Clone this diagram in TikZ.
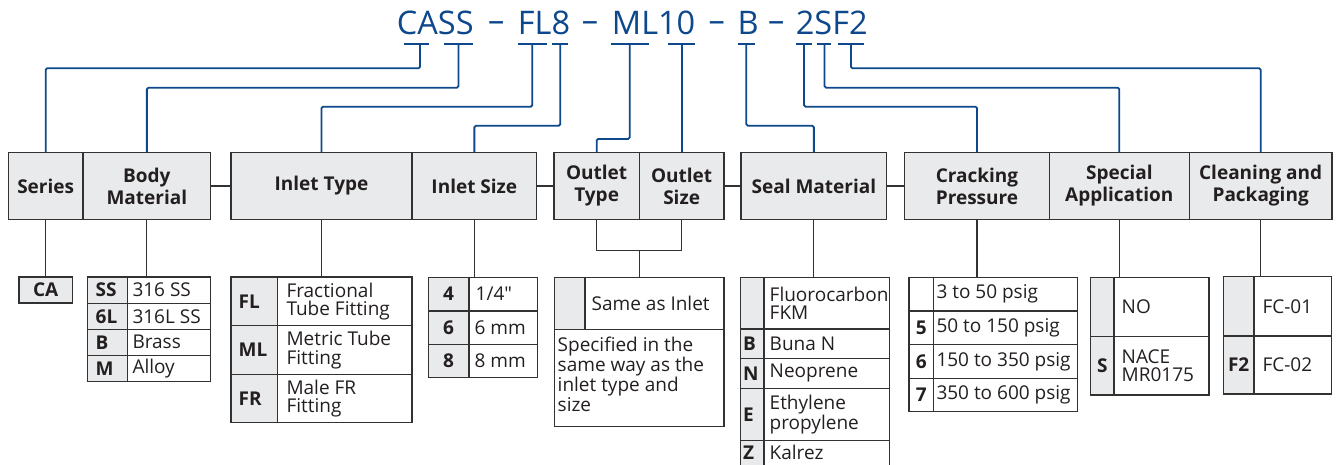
\documentclass[tikz,border=0pt]{standalone}
\usepackage{fontspec}
\setmainfont{Open Sans}
\newfontfamily\osplain{Open Sans}
\definecolor{cblue}{RGB}{14,72,140}
\definecolor{lc}{RGB}{50,50,50}
\definecolor{gfill}{RGB}{233,234,235}
\definecolor{tc}{RGB}{35,31,32}
\newcommand\myhfont{\fontsize{19}{22}\selectfont\bfseries}
\newcommand\mytfont{\fontsize{19}{18.5}\selectfont}
\newcommand\mycfont{\fontsize{19}{18.5}\selectfont\bfseries}
\newcommand\mytopfont{\fontsize{32.5}{36}\selectfont}
\tikzset{
 hdr/.style={draw=lc, fill=gfill, line width=1.2pt, inner sep=0pt, minimum height=66.4pt, align=center, font=\myhfont, text=tc},
 tframe/.style={draw=lc, line width=1.2pt, inner sep=0pt},
 gl/.style={draw=lc, line width=1.2pt},
 bl/.style={draw=cblue, line width=1.8pt, rounded corners=1.5pt},
 code/.style={font=\mycfont, inner sep=0pt, text=tc},
 val/.style={font=\mytfont, inner sep=0pt, anchor=west, align=left, text=tc},
 topt/.style={font=\mytopfont, text=cblue, inner sep=0pt, anchor=base west},
}
\begin{document}
\begin{tikzpicture}[x=1pt,y=-1pt]
\useasboundingbox (0,0) rectangle (1336,465);
\clip (0,0) rectangle (1336,465);

% ---- ordering code ----
\node[topt] (cCASS) at (396.7,35) {CASS};
\node[topt] (dA) at (488,35) {\raisebox{3.5pt}{–}};
\node[topt] (cFL8) at (517.7,35) {FL8};
\node[topt] (dB) at (581.7,35) {\raisebox{3.5pt}{–}};
\node[topt] (cML10) at (611.7,35) {ML10};
\node[topt] (dC) at (708.5,35) {\raisebox{3.5pt}{–}};
\node[topt] (cB) at (737.3,35) {B};
\node[topt] (dD) at (768,35) {\raisebox{3.5pt}{–}};
\node[topt] (c2SF2) at (795.7,35) {2SF2};

% underlines
\foreach \xa/\xb in {404/429,444.3/473.3,517.7/546.7,552.3/568.3,610.7/649,668.3/695,738/755,796/812,817/831,838.3/864}
  \draw[cblue, line width=1.8pt] (\xa,44) -- (\xb,44);
\coordinate (sCA) at (420,44);
\coordinate (sSS) at (458.5,44);
\coordinate (sFL) at (532.3,44);
\coordinate (s8) at (560.3,44);
\coordinate (sML) at (629.7,44);
\coordinate (s10) at (681.6,44);
\coordinate (sB) at (746.3,44);
\coordinate (s2) at (804,44);
\coordinate (sS) at (824.5,44);
\coordinate (sF2) at (851,44);

% ---- headers ----
\node[hdr, minimum width=74.7pt] (hSeries) at (45.65,186) {Series};
\node[hdr, minimum width=127.7pt] (hBody) at (146.85,186) {Body\\Material};
\node[hdr, minimum width=181pt] (hInType) at (321.5,186) {Inlet Type};
\node[hdr, minimum width=124.7pt] (hInSize) at (474.35,186) {Inlet Size};
\node[hdr, minimum width=85.3pt] (hOutType) at (596.65,186) {Outlet\\Type};
\node[hdr, minimum width=84.7pt] (hOutSize) at (681.65,186) {Outlet\\Size};
\node[hdr, minimum width=145.7pt] (hSeal) at (813.85,186) {Seal Material};
\node[hdr, minimum width=144.6pt] (hCrack) at (977,186) {Cracking\\Pressure};
\node[hdr, minimum width=140pt] (hSpec) at (1119.3,186) {Special\\Application};
\node[hdr, minimum width=142.7pt] (hClean) at (1260.65,186) {Cleaning and\\Packaging};

\draw[gl] (hBody.east) -- (hInType.west);
\draw[gl] (hInSize.east) -- (hOutType.west);
\draw[gl] (hOutSize.east) -- (hSeal.west);
\draw[gl] (hSeal.east) -- (hCrack.west);

% ---- blue connectors ----
\draw[bl] (sCA) -- ++(0,24.3) -| (hSeries.north);
\draw[bl] (sSS) -- ++(0,43.7) -| (hBody.north);
\draw[bl] (sFL) -- ++(0,62.7) -| (hInType.north);
\draw[bl] (s8) -- ++(0,81.7) -| (hInSize.north);
\draw[bl] (sML) -- ++(0,95) -| (hOutType.north);
\draw[bl] (s10) -- (s10 |- hOutSize.north);
\draw[bl] (sB) -- ++(0,81.7) -| (hSeal.north);
\draw[bl] (s2) -- ++(0,62.7) -| (hCrack.north);
\draw[bl] (sS) -- ++(0,43.7) -| (hSpec.north);
\draw[bl] (sF2) -- ++(0,24.3) -| (hClean.north);

% ---- Series table ----
\node[tframe, fill=gfill, minimum width=53.3pt, minimum height=26pt, font=\mycfont, text=tc] (tCA) at (45.65,290) {CA};

% ---- Body material table ----
\fill[gfill] (87.3,277) rectangle (127.7,381.3);
\foreach \ya/\yb/\cd/\vl [count=\i] in {277/303.3/SS/316 SS, 303.3/329.3/6L/316L SS, 329.3/355.3/B/Brass, 355.3/381.3/M/Alloy}{
  \draw[gl] (87.3,\ya) rectangle (127.7,\yb) (127.7,\ya) rectangle (210.7,\yb);
  \node[code, anchor=west] (bc\i) at (95.5,{(\ya+\yb)/2}) {\cd};
  \node[val] (bv\i) at (132.3,{(\ya+\yb)/2}) {\vl};
}
\node[tframe, minimum width=123.4pt, minimum height=104.3pt] (tBody) at (149,329.15) {};

% ---- Inlet type table ----
\fill[gfill] (231,277) rectangle (277.3,422.7);
\foreach \ya/\yb/\cd/\vl [count=\i] in {277/325.7/FL/Fractional\\Tube Fitting, 325.7/374.3/ML/Metric Tube\\Fitting, 374.3/422.7/FR/Male FR\\Fitting}{
  \draw[gl] (231,\ya) rectangle (277.3,\yb) (277.3,\ya) rectangle (412,\yb);
  \node[code, anchor=west] (ic\i) at (238.5,{(\ya+\yb)/2}) {\cd};
  \node[val] (iv\i) at (286.3,{(\ya+\yb)/2}) {\vl};
}
\node[tframe, minimum width=181pt, minimum height=145.7pt] (tInType) at (321.5,349.85) {};

% ---- Inlet size table ----
\fill[gfill] (428.7,277.3) rectangle (469,377.7);
\draw[gl] (469,277.3) -- (469,377.7) (428.7,311) -- (537.3,311) (428.7,344.7) -- (537.3,344.7);
\node[code] (sc1) at (448.5,294.15) {4};
\node[code] (sc2) at (448.5,327.85) {6};
\node[code] (sc3) at (448.5,361.2) {8};
\node[val] (sv1) at (475.5,294.15) {\osplain 1/4"};
\node[val] (sv2) at (474.5,327.85) {6 mm};
\node[val] (sv3) at (474.5,361.2) {8 mm};
\node[tframe, minimum width=108.6pt, minimum height=100.4pt] (tInSize) at (483,327.5) {};

% ---- Outlet table ----
\fill[gfill] (554.7,277.3) rectangle (585,329.3);
\draw[gl] (585,277.3) -- (585,329.3) (554.7,329.3) -- (724,329.3);
\node[val] (ov1) at (591.5,303.3) {Same as Inlet};
\node[val, anchor=north west] (ov2) at (557.5,337) {Specified in the\\same way as the\\inlet type and\\size};
\node[tframe, minimum width=169.3pt, minimum height=149.4pt] (tOut) at (639.35,352) {};
\coordinate (bk) at (639.35,250.7);
\draw[gl] (hOutType.south) |- (bk) -| (hOutSize.south);
\draw[gl] (bk) -- (tOut.north);

% ---- Seal material table ----
\fill[gfill] (740.7,277.3) rectangle (764,472);
\foreach \ya/\yb/\yc/\cd/\vl [count=\i] in {277.3/329/303.15/{}/Fluorocarbon\\FKM, 329/358.3/343.65/B/Buna N, 358.3/388.3/373.3/N/Neoprene, 388.3/440.7/414.5/E/Ethylene\\propylene, 440.7/472/452.5/Z/Kalrez}{
  \draw[gl] (740.7,\ya) rectangle (764,\yb) (764,\ya) rectangle (889.3,\yb);
  \node[code, anchor=west] (ec\i) at (743,\yc) {\cd};
  \node[val] (ev\i) at (769.5,\yc) {\vl};
}
\node[tframe, minimum width=148.6pt, minimum height=194.7pt] (tSeal) at (815,374.65) {};

% ---- Cracking pressure table ----
\foreach \ya/\yb/\cd/\vl [count=\i] in {277.3/311/{}/3 to 50 psig, 311/344.7/5/50 to 150 psig, 344.7/378.3/6/150 to 350 psig, 378.3/411.7/7/350 to 600 psig}{
  \draw[gl] (909,\ya) rectangle (933.3,\yb) (933.3,\ya) rectangle (1077.7,\yb);
  \node[code] (pc\i) at (921.2,{(\ya+\yb)/2}) {\cd};
  \node[val] (pv\i) at (936.3,{(\ya+\yb)/2}) {\vl};
}
\node[tframe, minimum width=168.7pt, minimum height=134.4pt] (tCrack) at (993.35,344.5) {};

% ---- Special application table ----
\fill[gfill] (1090.7,277.3) rectangle (1114,395);
\draw[gl] (1114,277.3) -- (1114,395) (1090.7,336.7) -- (1209,336.7);
\node[code] (ac2) at (1102.35,365.85) {S};
\node[val] (av1) at (1121.5,307) {NO};
\node[val] (av2) at (1121.5,365.85) {NACE\\MR0175};
\node[tframe, minimum width=118.3pt, minimum height=117.7pt] (tSpec) at (1149.85,336.15) {};

% ---- Cleaning table ----
\fill[gfill] (1223.3,276.7) rectangle (1254,394);
\draw[gl] (1254,276.7) -- (1254,394) (1223.3,336) -- (1331.7,336);
\node[code] (kc2) at (1238.65,365) {F2};
\node[val] (kv1) at (1262.3,306.35) {FC-01};
\node[val] (kv2) at (1262.3,365) {FC-02};
\node[tframe, minimum width=108.4pt, minimum height=117.3pt] (tClean) at (1277.5,335.35) {};

% ---- header to table connectors ----
\draw[gl] (hSeries.south) -- (hSeries.south |- tCA.north);
\draw[gl] (hBody.south) -- (hBody.south |- tBody.north);
\draw[gl] (hInType.south) -- (hInType.south |- tInType.north);
\draw[gl] (hInSize.south) -- (hInSize.south |- tInSize.north);
\draw[gl] (hSeal.south) -- (hSeal.south |- tSeal.north);
\draw[gl] (hCrack.south) -- (hCrack.south |- tCrack.north);
\draw[gl] (hSpec.south) -- (hSpec.south |- tSpec.north);
\draw[gl] (hClean.south) -- (hClean.south |- tClean.north);
\end{tikzpicture}
\end{document}
